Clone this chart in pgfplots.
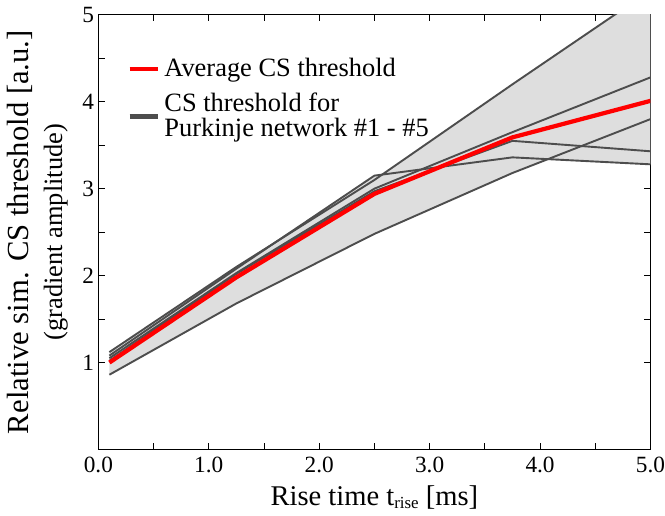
\documentclass[border=0pt]{standalone}
\usepackage{fontspec}
\setmainfont{Liberation Serif}
\usepackage{pgfplots}
\pgfplotsset{compat=1.18}
\definecolor{lgray}{HTML}{4D4D4D}
\definecolor{fillg}{HTML}{DEDEDE}
\begin{document}
\begin{tikzpicture}
\begin{axis}[
  scale only axis,
  width=261pt, height=205.5pt,
  xmin=0, xmax=5, ymin=0, ymax=5,
  xtick={0,1,2,3,4,5},
  ytick={1,2,3,4,5},
  minor tick num=1,
  tick align=inside,
  major tick length=3pt, minor tick length=3pt,
  tick style={black, line width=0.4pt},
  axis line style={black, line width=0.5pt},
  xticklabel style={inner xsep=0pt, /pgf/number format/.cd, fixed, fixed zerofill, precision=1},
  /pgf/number format/assume math mode=true,
  ticklabel style={font=\fontsize{11}{12}\selectfont},
  yticklabel style={xshift=1.5pt},
  xlabel={Rise time t\raisebox{-0.25ex}{\fontsize{8}{8}\selectfont rise} [ms]},
  ylabel={{\fontsize{14.5}{15}\selectfont Relative sim. CS threshold [a.u.]}\\[4pt]{\fontsize{12.5}{13}\selectfont (gradient amplitude)}},
  xlabel style={font=\fontsize{13.5}{14}\selectfont, yshift=1pt},
  ylabel style={align=center, yshift=0pt},
  legend style={draw=none, fill=none, at={(axis cs:0.2,4.6)}, anchor=north west,
    font=\fontsize{12.5}{12}\selectfont, row sep=2pt, cells={align=left}},
  legend image code/.code={\draw[#1] (0cm,0cm) -- (0.47cm,0cm);},
  legend cell align=left,
  clip=true,
]
% shaded envelope
\addplot[fill=fillg, draw=none, forget plot] coordinates {
  (0.1,1.12) (1.25,2.10) (2.5,3.15) (2.57,3.16) (3.75,4.20) (5.0,5.28)
  (5.0,3.28) (4.07,3.34) (3.75,3.18) (2.5,2.48) (1.25,1.68) (0.1,0.86)
} -- cycle;
% individual networks
\addplot[lgray, line width=0.9pt, forget plot] coordinates {(0.1,1.12) (1.25,2.10) (2.5,3.10) (3.75,4.20) (5.0,5.28)};
\addplot[lgray, line width=0.9pt, forget plot] coordinates {(0.1,1.08) (1.25,2.08) (2.5,3.15) (3.75,3.36) (5.0,3.28)};
\addplot[lgray, line width=0.9pt, forget plot] coordinates {(0.1,1.02) (1.25,2.02) (2.5,2.97) (3.75,3.55) (5.0,3.43)};
\addplot[lgray, line width=0.9pt, forget plot] coordinates {(0.1,1.05) (1.25,2.03) (2.5,3.00) (3.75,3.65) (5.0,4.28)};
\addplot[lgray, line width=0.9pt, forget plot] coordinates {(0.1,0.86) (1.25,1.68) (2.5,2.48) (3.75,3.18) (5.0,3.80)};
% average
\addplot[red, line width=2pt] coordinates {(0.1,1.00) (1.25,1.98) (2.5,2.94) (3.75,3.59) (5.0,4.01)};
\addlegendentry{Average CS threshold}
\addlegendimage{lgray, line width=2.2pt}
\addlegendentry{CS threshold for\\Purkinje network \#1 - \#5}
\end{axis}
\end{tikzpicture}
\end{document}
